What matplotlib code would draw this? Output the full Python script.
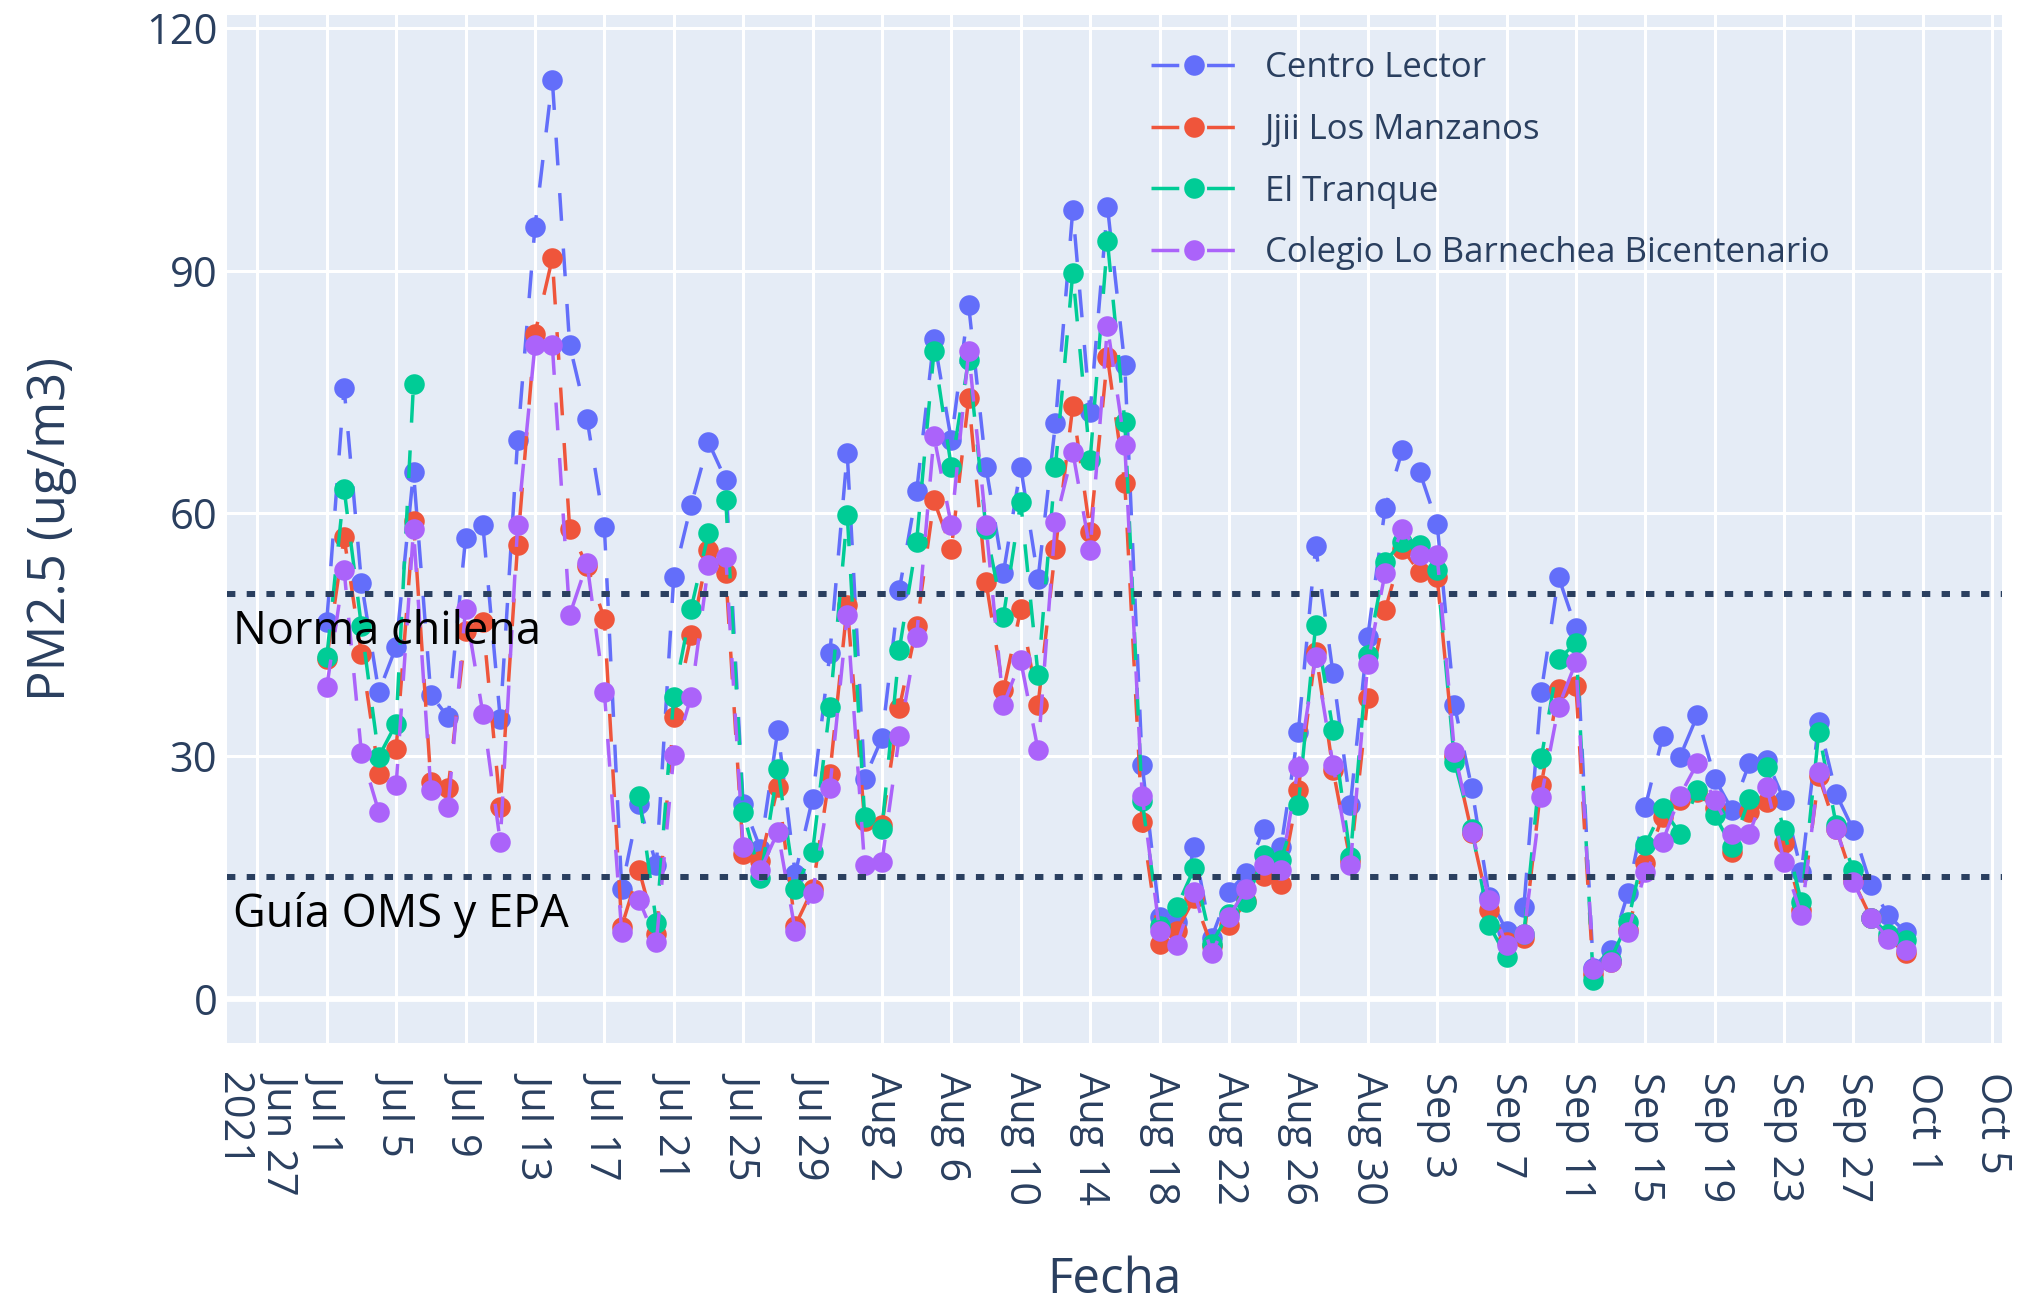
import matplotlib
matplotlib.use("Agg")
import matplotlib.pyplot as plt
import matplotlib.dates as mdates
import matplotlib.transforms as mtransforms
import numpy as np
import pandas as pd

plt.rcParams['font.family'] = ['Open Sans', 'DejaVu Sans']

NaN = np.nan
dates = pd.date_range('2021-07-01', '2021-09-30', freq='D')

series_names = ['Centro Lector', 'Jjii Los Manzanos', 'El Tranque',
                'Colegio Lo Barnechea Bicentenario']
series_colors = ['#636EFA', '#EF553B', '#00CC96', '#AB63FA']

centro_lector = [
    46.6, 75.5, 51.4, 37.9, 43.5, 65.1, 37.5, 34.8, 56.9, 58.5, 34.6, 69.0, 95.4, 113.6, 80.8, 71.7,
    58.3, 13.6, 24.0, 16.5, 52.1, 61.0, 68.8, 64.1, 24.1, 18.5, 33.2, 15.4, 24.7, 42.7, 67.4,
    27.2, 32.2, 50.5, 62.7, 81.6, 69.0, 85.7, 65.7, 52.6, 65.7, 51.9, 71.1, 97.5, 72.5, 97.9, 78.3,
    28.9, 10.1, 9.5, 18.7, 7.5, 13.2, 15.5, 21.0, 18.7, 33.0, 55.9, 40.2, 23.9, 44.7, 60.6,
    67.8, 65.1, 58.7, 36.3, 26.0, 12.5, 8.4, 11.3, 37.9, 52.1, 45.8, 3.8, 6.0, 13.0, 23.7,
    32.4, 29.9, 35.0, 27.2, 23.3, 29.1, 29.5, 24.5, 15.7, 34.2, 25.3, 20.8, 14.0, 10.3, 8.2]

jjii_los_manzanos = [
    42.0, 57.0, 42.6, 27.8, 30.9, 59.0, 26.8, 26.0, 45.5, 46.6, 23.7, 56.1, 82.2, 91.5, 58.1, 53.5,
    46.9, 8.9, 15.9, 8.0, 34.8, 44.9, 55.4, 52.6, 17.9, 17.0, 26.2, 9.0, 13.5, 27.8, 48.6,
    22.0, 21.5, 35.9, 46.0, 61.6, 55.6, 74.2, 51.5, 38.1, 48.1, 36.3, 55.6, 73.2, 57.7, 79.3, 63.7,
    21.8, 6.8, 8.4, 12.4, 6.5, 9.1, 12.0, 15.2, 14.2, 25.8, 42.9, 28.3, 17.0, 37.1, 48.0,
    55.6, 52.7, 52.1, 30.0, 20.5, 11.0, 7.0, 7.5, 26.4, 38.3, 38.7, 3.0, 4.5, 8.5, 16.7,
    22.5, 24.5, 25.5, 23.5, 18.1, 23.0, 24.3, 19.2, 11.0, 27.5, 21.0, 14.5, 10.0, 7.5, 5.6]

el_tranque = [
    42.2, 63.0, 46.0, 29.9, 34.0, 76.0, NaN, NaN, NaN, NaN, NaN, NaN, NaN, NaN, NaN, NaN,
    NaN, NaN, 25.1, 9.3, 37.3, 48.2, 57.5, 61.6, 23.1, 14.9, 28.4, 13.6, 18.1, 36.1, 59.8,
    22.5, 21.0, 43.1, 56.5, 80.0, 65.7, 79.0, 58.0, 47.2, 61.4, 40.0, 65.7, 89.7, 66.6, 93.6, 71.3,
    24.4, 9.0, 11.3, 16.1, 6.8, 10.5, 11.9, 17.7, 17.1, 23.9, 46.2, 33.2, 17.5, 42.5, 54.0,
    56.5, 56.1, 53.0, 29.3, 21.0, 9.1, 5.1, 8.0, 29.7, 42.0, 43.9, 2.3, 4.8, 9.5, 19.0,
    23.5, 20.4, 25.8, 22.7, 18.7, 24.7, 28.6, 20.8, 11.9, 33.0, 21.5, 15.9, 10.0, 8.0, 7.2]

colegio_lo_barnechea = [
    38.5, 53.0, 30.3, 23.1, 26.4, 58.0, 25.8, 23.7, 48.2, 35.2, 19.4, 58.5, 80.8, 80.8, 47.4, 53.8,
    37.9, 8.2, 12.2, 7.0, 30.1, 37.3, 53.6, 54.6, 18.7, 15.9, 20.6, 8.4, 13.0, 26.0, 47.4,
    16.5, 16.9, 32.4, 44.7, 69.5, 58.5, 80.0, 58.5, 36.3, 41.8, 30.7, 58.9, 67.6, 55.4, 83.1, 68.4,
    25.1, 8.4, 6.6, 13.2, 5.6, 10.1, 13.6, 16.5, 15.9, 28.6, 42.2, 28.9, 16.5, 41.4, 52.6,
    58.1, 54.8, 54.8, 30.5, 20.6, 12.2, 6.6, 8.0, 24.9, 36.1, 41.6, 3.7, 4.5, 8.2, 15.7,
    19.4, 25.1, 29.1, 24.5, 20.4, 20.4, 26.2, 16.9, 10.3, 28.0, 21.0, 14.4, 9.9, 7.4, 6.0]

threshold_values = [50, 15]
threshold_labels = ['Norma chilena', 'Guía OMS y EPA']

tick_dates = pd.date_range('2021-06-27', '2021-10-05', freq='4D')
tick_labels = [d.strftime('%b ') + str(d.day) for d in tick_dates]
tick_labels[0] = tick_labels[0] + '\n2021'
y_ticks = [0, 30, 60, 90, 120]

TEXT = '#2a3f5f'

fig = plt.figure(figsize=(20.32, 13.02), dpi=100)
ax = fig.add_axes([227 / 2032, 1 - 1043 / 1302, (2002 - 227) / 2032, (1043 - 15) / 1302])
ax.set_facecolor('#E5ECF6')
for s in ax.spines.values():
    s.set_visible(False)

all_series = [centro_lector, jjii_los_manzanos, el_tranque, colegio_lo_barnechea]
for name, color, vals in zip(series_names, series_colors, all_series):
    ax.plot(dates, vals, color=color, lw=2.5, ls=(0, (8, 8)), marker='o', ms=14.8,
            mec=color, mew=0, label=name, zorder=3)

ax.set_xticks(tick_dates)
ax.set_xticklabels(tick_labels, rotation=-90, ha='center', va='top', multialignment='left')
ax.set_yticks(y_ticks)
ax.set_yticklabels([str(v) for v in y_ticks])
ax.tick_params(axis='both', length=0, labelsize=30, labelcolor=TEXT)
ax.tick_params(axis='x', pad=21)
ax.tick_params(axis='y', pad=7)

x0 = mdates.date2num(dates[0]) - 5.75
x1 = mdates.date2num(dates[-1]) + 5.56
ax.set_xlim(x0, x1)
ax.set_ylim(-5.5, 121.6)

ax.grid(True, color='white', lw=2.2, zorder=0)
ax.set_axisbelow(True)
ax.axhline(0, color='white', lw=4.2, zorder=1)

trans = mtransforms.blended_transform_factory(ax.transAxes, ax.transData)
for v, lab in zip(threshold_values, threshold_labels):
    ax.axhline(v, color=TEXT, lw=4.3, ls=(0, (1.4, 1.9)), zorder=4)
    ax.annotate(lab, xy=(0.0035, v), xycoords=trans, xytext=(0, -15),
                textcoords='offset pixels', ha='left', va='top',
                fontsize=32.5, color='black', zorder=5)

ax.set_xlabel('Fecha', fontsize=35.5, color=TEXT, va='center')
ax.xaxis.set_label_coords(0.5, (1043 - 1280) / 1028)
ax.set_ylabel('PM2.5 (ug/m3)', fontsize=36.5, color=TEXT, va='center', ha='center')
ax.yaxis.set_label_coords((52 - 227) / 1775, 0.5)

leg = ax.legend(loc='upper left', bbox_to_anchor=((1151 - 227) / 1775, (1043 - 51) / 1028),
                frameon=False, fontsize=25, handlelength=2.5, handletextpad=0.78,
                labelspacing=0.8, borderpad=0, borderaxespad=0)
for t in leg.get_texts():
    t.set_color(TEXT)

fig.savefig('out.png', dpi=100, facecolor='white')
